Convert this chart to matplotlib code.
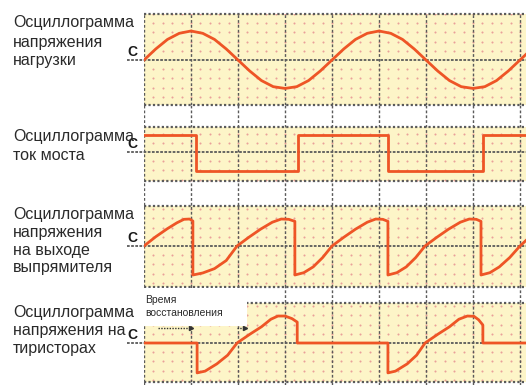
import numpy as np
import matplotlib
matplotlib.use('Agg')
from matplotlib import pyplot as plt
from matplotlib.patches import Rectangle

plt.rcParams['font.family'] = ['Liberation Sans', 'DejaVu Sans']

# ---- data (x in grid divisions, y in units of the load-voltage amplitude) ----
load_t = [0, 0.25, 0.5, 0.75, 1, 1.25, 1.5, 1.75, 2, 2.25, 2.5, 2.75, 3, 3.25, 3.5, 3.75,
          4, 4.25, 4.5, 4.75, 5, 5.25, 5.5, 5.75, 6, 6.25, 6.5, 6.75, 7, 7.25, 7.5, 7.75,
          8, 8.25]
load_v = [0, .38, .71, .92, 1, .92, .71, .38, 0, -.38, -.71, -.92, -.98, -.92, -.71, -.38,
          0, .38, .71, .92, 1, .92, .71, .38, 0, -.38, -.71, -.92, -.98, -.92, -.71, -.38,
          0, .38]

bridge_t = [0, 1.1, 1.1, 3.28, 3.28, 5.19, 5.19, 7.21, 7.21, 8.2]
bridge_i = [0.59, 0.59, -0.66, -0.66, 0.59, 0.59, -0.66, -0.66, 0.59, 0.59]

rect_t = [0, 0.25, 0.5, 0.7, 0.85, 0.97, 1.04,
          1.04, 1.25, 1.5, 1.75, 1.98, 2.23, 2.48, 2.73, 2.92, 3.08, 3.21,
          3.21, 3.4, 3.6, 3.8, 4.0, 4.25, 4.5, 4.75, 4.93, 5.08, 5.19,
          5.19, 5.38, 5.58, 5.78, 5.98, 6.23, 6.48, 6.73, 6.92, 7.07, 7.17,
          7.17, 7.36, 7.56, 7.78, 8.0, 8.2]
rect_v = [0, 0.32, 0.6, 0.8, 0.92, 0.93, 0.86,
          -1.0, -0.93, -0.78, -0.5, 0, 0.3, 0.58, 0.82, 0.93, 0.92, 0.85,
          -1.0, -0.92, -0.72, -0.4, 0, 0.3, 0.58, 0.82, 0.93, 0.92, 0.85,
          -1.0, -0.92, -0.72, -0.4, 0, 0.3, 0.58, 0.82, 0.93, 0.92, 0.85,
          -1.0, -0.92, -0.72, -0.4, 0, 0.3]

thy_t = [0, 1.13, 1.13, 1.3, 1.55, 1.78, 1.98, 2.25, 2.5, 2.7, 2.85, 3.0, 3.15, 3.26,
         3.26, 5.19, 5.19, 5.35, 5.6, 5.8, 5.98, 6.25, 6.5, 6.7, 6.88, 7.02, 7.12, 7.21,
         7.21, 8.2]
thy_v = [0, 0, -1.03, -0.97, -0.72, -0.42, 0, 0.3, 0.56, 0.82, 0.93, 0.93, 0.84, 0.72,
         0, 0, -1.03, -0.97, -0.72, -0.42, 0, 0.3, 0.56, 0.82, 0.93, 0.92, 0.8, 0.62,
         0, 0]

labels = [['Осциллограмма', 'напряжения', 'нагрузки'],
          ['Осциллограмма', 'ток моста'],
          ['Осциллограмма', 'напряжения', 'на выходе', 'выпрямителя'],
          ['Осциллограмма', 'напряжения на', 'тиристорах']]

# ---- layout (pixels of the 526x385 picture) ----
W, H = 526, 385
x0, x1 = 144, 526
px_div = 47.0
amp_px = 29.0
xmax = (x1 - x0) / px_div
# (top, zero, bottom) of every panel
panels = [(14, 60, 105), (127, 152, 181), (206, 246, 287), (303, 343, 382)]
# first caption line centre and line step
label_y = [(23, 19), (137, 18), (215, 17.5), (313, 17.5)]

bg_col = '#fdf5c8'
trace_col = '#ee5526'
grid_col = '#5a5a5a'
dot_col = '#e9a09a'

fig = plt.figure(figsize=(W / 100, H / 100), dpi=100)

# vertical grid lines running through the whole picture
ax_bg = fig.add_axes([x0 / W, 0, (x1 - x0) / W, 1 - 14 / H])
ax_bg.set_xlim(0, xmax)
ax_bg.set_ylim(0, 1)
ax_bg.axis('off')
for k in range(9):
    ax_bg.axvline(k, color=grid_col, lw=1, ls=(0, (2, 1.5)))

axes = []
for (top, zero, bot) in panels:
    ax = fig.add_axes([x0 / W, 1 - bot / H, (x1 - x0) / W, (bot - top) / H])
    ax.set_xlim(0, xmax)
    ax.set_ylim(-(bot - zero) / amp_px, (zero - top) / amp_px)
    ax.set_facecolor(bg_col)
    for s in ax.spines.values():
        s.set_visible(False)
    ax.set_xticks([])
    ax.set_yticks([])
    lo, hi = ax.get_ylim()
    # pink minor dots
    dx = np.arange(0.2, xmax, 0.2)
    step = 9.2 / amp_px
    dy = np.concatenate([-np.arange(step, -lo, step), np.arange(step, hi, step)])
    gx, gy = np.meshgrid(dx, dy)
    ax.scatter(gx.ravel(), gy.ravel(), s=2.2, color=dot_col, linewidths=0, zorder=1)
    # major lines
    for k in range(9):
        ax.axvline(k, color=grid_col, lw=1, ls=(0, (2, 1.5)), zorder=2)
    for yy in (lo, hi):
        ax.axhline(yy, color=grid_col, lw=1.6, ls=(0, (1, 1)), zorder=2, clip_on=False)
    ax.plot([-0.36, xmax], [0, 0], color=grid_col, lw=1.3, ls=(0, (1.5, 0.8)),
            zorder=2, clip_on=False)
    ax.text(-0.24, 0.02, 'C', fontsize=10, fontweight='bold', color='#1a1a1a',
            ha='center', va='bottom', clip_on=False)
    axes.append(ax)

axes[0].plot(load_t, load_v, color=trace_col, lw=2, zorder=3)
axes[1].plot(bridge_t, bridge_i, color=trace_col, lw=2, zorder=3)
axes[2].plot(rect_t, rect_v, color=trace_col, lw=2, zorder=3)
axes[3].plot(thy_t, thy_v, color=trace_col, lw=2, zorder=3)

# left captions
for lines, (ly, dy_line) in zip(labels, label_y):
    for i, line in enumerate(lines):
        fig.text(13 / W, 1 - (ly + i * dy_line) / H, line, fontsize=11.5,
                 color='#2a2a2a', ha='left', va='center')

# white box with the recovery-time note
fig.add_artist(Rectangle((143 / W, 1 - 326 / H), (247 - 143) / W, (326 - 288) / H,
                         transform=fig.transFigure, facecolor='white',
                         edgecolor='none', zorder=5))
fig.text(145 / W, 1 - 300 / H, 'Время', fontsize=7.5, color='#2a2a2a',
         va='center', zorder=6)
fig.text(145 / W, 1 - 313 / H, 'восстановления', fontsize=7.5, color='#2a2a2a',
         va='center', zorder=6)
ya = (343 - 328) / amp_px
axes[3].plot([0.3, 1.0], [ya, ya], color='#333333', lw=1, ls=(0, (1, 1)), zorder=4)
axes[3].plot([1.0], [ya], marker='>', ms=3, color='#333333', zorder=4)
axes[3].plot([1.98, 2.15], [ya, ya], color='#333333', lw=1, ls=(0, (1, 1)), zorder=4)
axes[3].plot([2.15], [ya], marker='>', ms=3, color='#333333', zorder=4)

fig.savefig('out.png', dpi=100)
